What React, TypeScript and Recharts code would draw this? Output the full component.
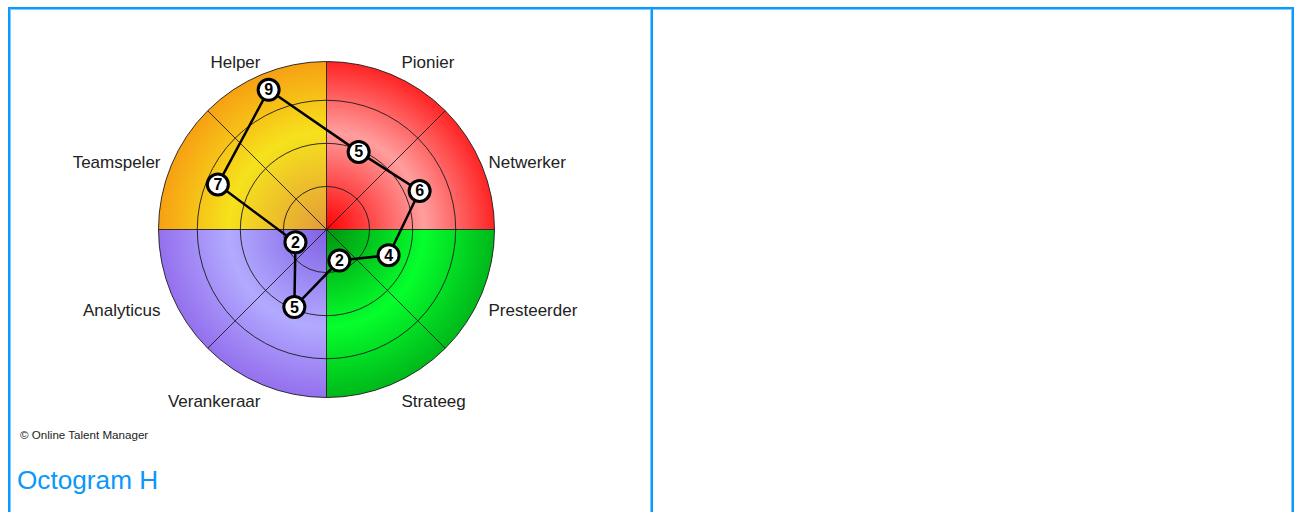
import { RadarChart, Radar, PolarGrid, PolarAngleAxis, PolarRadiusAxis, PieChart, Pie, Cell } from 'recharts'

// octogram roles, clockwise starting just right of 12 o'clock
const categories = ['Pionier', 'Netwerker', 'Presteerder', 'Strateeg', 'Verankeraar', 'Analyticus', 'Teamspeler', 'Helper']
const scores = [5, 6, 4, 2, 5, 2, 7, 9]

// coloured background quarters (top-right, bottom-right, bottom-left, top-left)
const quadrantNames = ['rood', 'groen', 'blauw', 'geel']
const quadrantShares = [1, 1, 1, 1]
const quadrantStops = [
  ['#ff0000', '#ff9e9e', '#ff2424'],
  ['#009410', '#05ff2c', '#00b81a'],
  ['#8060e4', '#b2aaff', '#9470ee'],
  ['#e39a3a', '#f6e21c', '#f7a013'],
]

const ringValues = [2.5, 5, 7.5, 9.75]
const spokeAngles = [90, 45, 0, -45, -90, -135, -180, -225]

const data = categories.map((name, i) => ({ name, value: scores[i] }))
const quadrants = quadrantNames.map((name, i) => ({ name, value: quadrantShares[i] }))

const W = 650
const H = 512
const CX = 326.5
const CY = 229.5
const R = 168
const MAX = 9.75
const FONT = '"Liberation Sans", Arial, sans-serif'
const BLUE = '#0a9bff'
const BLUE_LIGHT = '#7ccaff'

function AngleTick(props: any) {
  const { x, y, payload } = props
  const dx = x - CX
  const dy = y - CY
  const vertical = Math.abs(dy) > Math.abs(dx)
  const right = dx > 0
  const up = dy < 0
  const tx = CX + (right ? (vertical ? 75 : 162) : (vertical ? -66 : -166))
  const ty = CY + (vertical ? (up ? -162 : 177) : (up ? -62 : 86))
  return (
    <text x={tx} y={ty} textAnchor={right ? 'start' : 'end'} fontSize={17} fill="#222" fontFamily={FONT}>
      {payload.value}
    </text>
  )
}

function ScoreDot(props: any) {
  const { cx, cy, payload, value } = props
  const v = payload?.value ?? value
  return (
    <g>
      <circle cx={cx} cy={cy} r={10.5} fill="#fff" stroke="#000" strokeWidth={3} />
      <text x={cx} y={cy} dy={5.5} textAnchor="middle" fontSize={16} fontWeight="bold" fill="#000" fontFamily={FONT}>
        {v}
      </text>
    </g>
  )
}

const line = (style: React.CSSProperties) => <div style={{ position: 'absolute', ...style }} />

export default function App() {
  return (
    <div style={{ position: 'absolute', left: 0, top: 0, width: 1294, height: 512, overflow: 'hidden', background: '#fff' }}>
      <div style={{ position: 'absolute', left: 0, top: 0 }}>
        <PieChart width={W} height={H} margin={{ top: 0, right: 0, bottom: 0, left: 0 }}>
          <defs>
            {quadrantStops.map((s, i) => (
              <radialGradient key={i} id={`q${i}`} gradientUnits="userSpaceOnUse" cx={CX} cy={CY} r={R}>
                <stop offset="0%" stopColor={s[0]} />
                <stop offset="58%" stopColor={s[1]} />
                <stop offset="100%" stopColor={s[2]} />
              </radialGradient>
            ))}
          </defs>
          <Pie
            data={quadrants}
            dataKey="value"
            cx={CX}
            cy={CY}
            innerRadius={0}
            outerRadius={R}
            startAngle={90}
            endAngle={-270}
            stroke="none"
            isAnimationActive={false}
          >
            {quadrants.map((q, i) => <Cell key={q.name} fill={`url(#q${i})`} />)}
          </Pie>
        </PieChart>
      </div>
      <div style={{ position: 'absolute', left: 0, top: 0 }}>
        <RadarChart width={W} height={H} data={data} cx={CX} cy={CY} outerRadius={R} startAngle={67.5} endAngle={-292.5}
          margin={{ top: 0, right: 0, bottom: 0, left: 0 }}>
          <PolarGrid
            gridType="circle"
            polarAngles={spokeAngles}
            polarRadius={ringValues.map(v => (v / MAX) * R)}
            stroke="#1c1c1c"
            strokeOpacity={0.9}
            strokeWidth={1}
          />
          <PolarAngleAxis dataKey="name" tick={AngleTick} tickLine={false} axisLine={false} />
          <PolarRadiusAxis domain={[0, MAX]} tick={false} axisLine={false} tickCount={2} />
          <Radar
            dataKey="value"
            stroke="#000"
            strokeWidth={2.5}
            fill="none"
            fillOpacity={0}
            dot={ScoreDot}
            isAnimationActive={false}
          />
        </RadarChart>
      </div>

      <div style={{ position: 'absolute', left: 20, top: 429.3, fontSize: 11.6, lineHeight: '11.6px', fontFamily: FONT, color: '#222', whiteSpace: 'nowrap' }}>
        © Online Talent Manager
      </div>
      <div style={{ position: 'absolute', left: 17, top: 466.5, fontSize: 26.2, lineHeight: '26.2px', fontFamily: FONT, color: '#0b98f8', whiteSpace: 'nowrap' }}>
        Octogram H
      </div>

      {/* table borders */}
      {line({ left: 8, top: 7, width: 1286, height: 2, background: BLUE })}
      {line({ left: 10, top: 9, width: 1282, height: 1, background: BLUE_LIGHT })}
      {line({ left: 8, top: 7, width: 2, height: 505, background: BLUE })}
      {line({ left: 10, top: 9, width: 1, height: 503, background: BLUE_LIGHT })}
      {line({ left: 650, top: 9, width: 1, height: 503, background: BLUE_LIGHT })}
      {line({ left: 651, top: 9, width: 2, height: 503, background: BLUE })}
      {line({ left: 1291, top: 9, width: 1, height: 503, background: BLUE_LIGHT })}
      {line({ left: 1292, top: 7, width: 2, height: 505, background: BLUE })}
    </div>
  )
}
